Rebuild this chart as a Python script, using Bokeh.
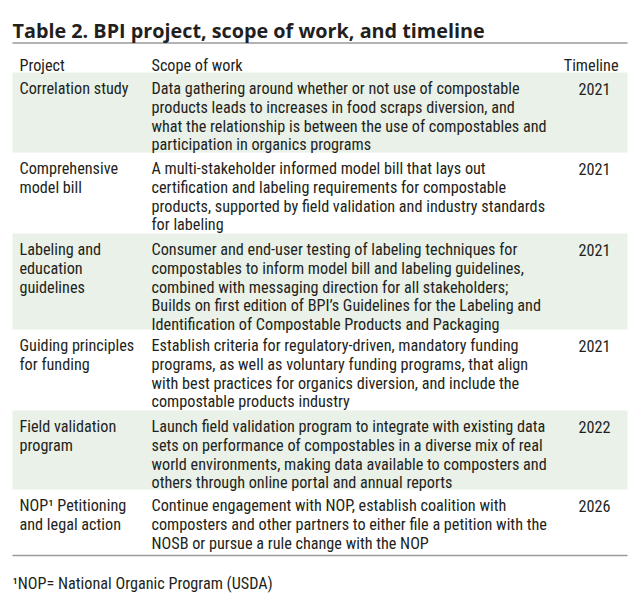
from bokeh.plotting import figure
from bokeh.models import Range1d
from bokeh.core.properties import value
from bokeh.embed import file_html
from bokeh.resources import INLINE

# ---------------- data ----------------
title = "Table 2. BPI project, scope of work, and timeline"
headers = ["Project", "Scope of work", "Timeline"]
projects = [
    ["Correlation study"],
    ["Comprehensive", "model bill"],
    ["Labeling and", "education", "guidelines"],
    ["Guiding principles", "for funding"],
    ["Field validation", "program"],
    ["NOP\u00b9 Petitioning", "and legal action"],
]
scopes = [
    ["Data gathering around whether or not use of compostable",
     "products leads to increases in food scraps diversion, and",
     "what the relationship is between the use of compostables and",
     "participation in organics programs"],
    ["A multi-stakeholder informed model bill that lays out",
     "certification and labeling requirements for compostable",
     "products, supported by field validation and industry standards",
     "for labeling"],
    ["Consumer and end-user testing of labeling techniques for",
     "compostables to inform model bill and labeling guidelines,",
     "combined with messaging direction for all stakeholders;",
     "Builds on first edition of BPI\u2019s Guidelines for the Labeling and",
     "Identification of Compostable Products and Packaging"],
    ["Establish criteria for regulatory-driven, mandatory funding",
     "programs, as well as voluntary funding programs, that align",
     "with best practices for organics diversion, and include the",
     "compostable products industry"],
    ["Launch field validation program to integrate with existing data",
     "sets on performance of compostables in a diverse mix of real",
     "world environments, making data available to composters and",
     "others through online portal and annual reports"],
    ["Continue engagement with NOP, establish coalition with",
     "composters and other partners to either file a petition with the",
     "NOSB or pursue a rule change with the NOP"],
]
years = ["2021", "2021", "2021", "2021", "2022", "2026"]
footnote = "\u00b9NOP= National Organic Program (USDA)"

# ---------------- layout / style ----------------
W, H = 635, 595
BODY_FONT = "Roboto Condensed"
TITLE_FONT = "Open Sans"
FS = "16.2px"
TXT = "#231f20"
SHADE = "#e9f1e8"
RULE = "#9a9a9a"
X0, X1 = 12, 627
X_PROJ, X_SCOPE, X_YEAR = 19, 151, 594
row_tops = [72, 152, 233, 329, 410, 489]
table_bottom = 555
LINE_H = 18.8
FIRST_BASE = 16

p = figure(width=W, height=H, x_range=Range1d(0, W), y_range=Range1d(H, 0),
           output_backend="svg", toolbar_location=None, min_border=0)
p.axis.visible = False
p.grid.visible = False
p.outline_line_color = None
p.background_fill_color = "white"
p.border_fill_color = "white"

# shaded rows
bounds = row_tops + [table_bottom]
sx, sy, sw, sh = [], [], [], []
for i in range(len(projects)):
    if i % 2 == 0:
        top, bot = bounds[i], bounds[i + 1]
        sx.append((X0 + X1) / 2); sy.append((top + bot) / 2)
        sw.append(X1 - X0); sh.append(bot - top)
p.rect(x=sx, y=sy, width=sw, height=sh, fill_color=SHADE, line_color=None)

# rules
p.segment(x0=[X0, X0], y0=[42.5, table_bottom], x1=[X1, X1], y1=[42.5, table_bottom],
          line_color=RULE, line_width=1.5)

# title
p.text(x=[12], y=[30], text=[title], text_font=value(TITLE_FONT), text_font_style="bold",
       text_font_size="19.8px", text_color=TXT, text_baseline="alphabetic")

# header
p.text(x=[X_PROJ, X_SCOPE], y=[65, 65], text=headers[:2], text_font=value(BODY_FONT),
       text_font_size=FS, text_color=TXT, text_baseline="alphabetic")
p.text(x=[618], y=[65], text=[headers[2]], text_font=value(BODY_FONT),
       text_font_size=FS, text_color=TXT, text_baseline="alphabetic", text_align="right")

# body
px, py, pt = [], [], []
cx, cy, ct = [], [], []
yx, yy, yt = [], [], []
for i, top in enumerate(row_tops):
    for j, s in enumerate(projects[i]):
        px.append(X_PROJ); py.append(top + FIRST_BASE + j * LINE_H); pt.append(s)
    for j, s in enumerate(scopes[i]):
        cx.append(X_SCOPE); cy.append(top + FIRST_BASE + j * LINE_H); ct.append(s)
    yx.append(X_YEAR); yy.append(top + FIRST_BASE); yt.append(years[i])

p.text(x=px, y=py, text=pt, text_font=value(BODY_FONT), text_font_size=FS,
       text_color=TXT, text_baseline="alphabetic")
p.text(x=cx, y=cy, text=ct, text_font=value(BODY_FONT), text_font_size=FS,
       text_color=TXT, text_baseline="alphabetic")
p.text(x=yx, y=yy, text=yt, text_font=value(BODY_FONT), text_font_size=FS,
       text_color=TXT, text_baseline="alphabetic", text_align="center")

# footnote
p.text(x=[12], y=[583], text=[footnote], text_font=value(BODY_FONT), text_font_size=FS,
       text_color=TXT, text_baseline="alphabetic")

open("out.html", "w").write(file_html(p, INLINE))
